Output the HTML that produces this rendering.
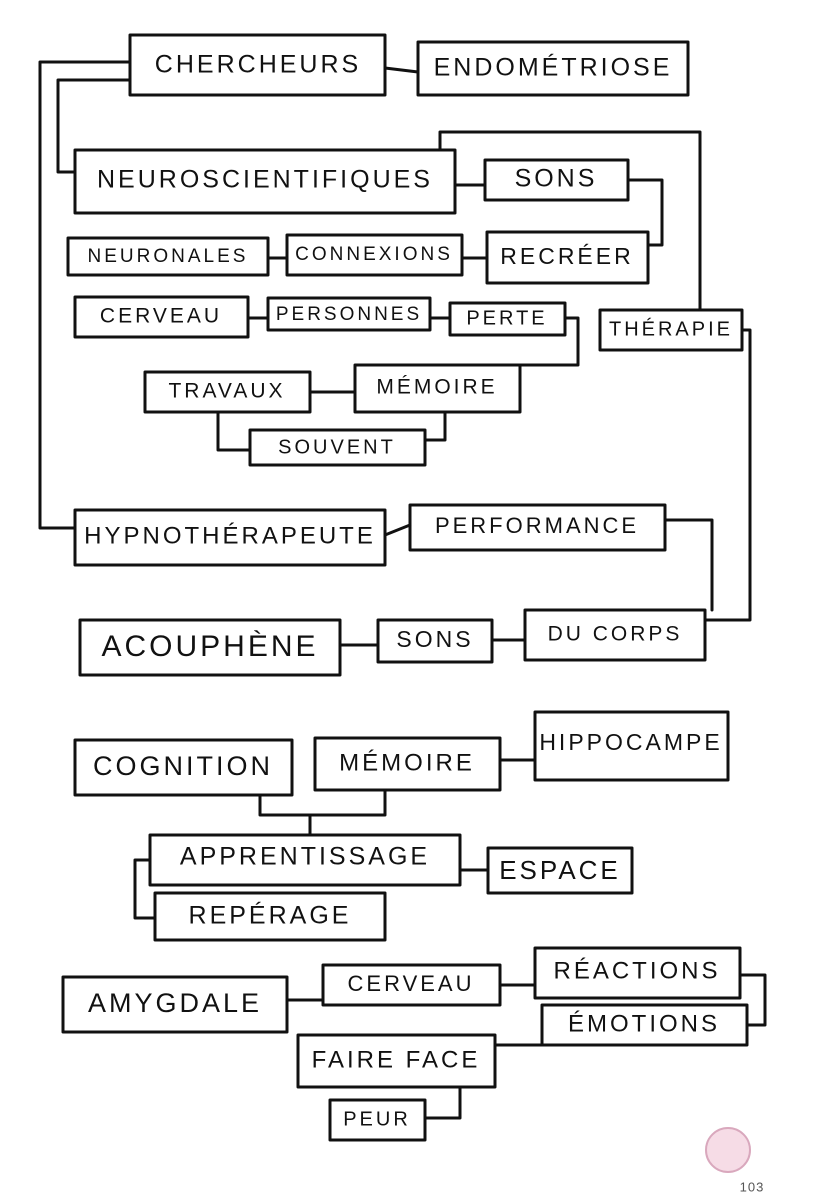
<!DOCTYPE html>
<html><head><meta charset="utf-8"><style>
html,body{margin:0;padding:0;background:#fff;}
svg{display:block}
text{font-family:"Liberation Sans",sans-serif;font-size:25px;letter-spacing:3px;fill:#111;dominant-baseline:middle;text-anchor:middle}
</style></head><body>
<svg width="816" height="1200" viewBox="0 0 816 1200" xmlns="http://www.w3.org/2000/svg">
<rect width="816" height="1200" fill="#fff"/>
<g fill="none" stroke="#111" stroke-width="3" stroke-linejoin="round" stroke-linecap="round">
<!-- boxes -->
<rect x="130" y="35" width="255" height="60"/>
<rect x="418" y="42" width="270" height="53"/>
<rect x="75" y="150" width="380" height="63"/>
<rect x="485" y="160" width="143" height="40"/>
<rect x="68" y="238" width="200" height="37"/>
<rect x="287" y="235" width="175" height="40"/>
<rect x="487" y="232" width="161" height="51"/>
<rect x="75" y="297" width="173" height="40"/>
<rect x="268" y="298" width="162" height="32"/>
<rect x="450" y="303" width="115" height="32"/>
<rect x="600" y="310" width="142" height="40"/>
<rect x="145" y="372" width="165" height="40"/>
<rect x="355" y="365" width="165" height="47"/>
<rect x="250" y="430" width="175" height="35"/>
<rect x="75" y="510" width="310" height="55"/>
<rect x="410" y="505" width="255" height="45"/>
<rect x="80" y="620" width="260" height="55"/>
<rect x="378" y="620" width="114" height="42"/>
<rect x="525" y="610" width="180" height="50"/>
<rect x="75" y="740" width="217" height="55"/>
<rect x="315" y="738" width="185" height="52"/>
<rect x="535" y="712" width="193" height="68"/>
<rect x="150" y="835" width="310" height="50"/>
<rect x="488" y="848" width="144" height="45"/>
<rect x="155" y="893" width="230" height="47"/>
<rect x="63" y="977" width="224" height="55"/>
<rect x="323" y="965" width="177" height="40"/>
<rect x="535" y="948" width="205" height="50"/>
<rect x="542" y="1005" width="205" height="40"/>
<rect x="298" y="1035" width="197" height="52"/>
<rect x="330" y="1100" width="95" height="40"/>
<!-- connectors -->
<path d="M130 62 H40 V528 H75"/>
<path d="M130 80 H58 V172 H75"/>
<path d="M385 68 L418 72"/>
<path d="M440 150 V132 H700 V310"/>
<path d="M455 185 H485"/>
<path d="M628 180 H662 V245 H648"/>
<path d="M268 258 H287"/>
<path d="M462 258 H487"/>
<path d="M248 318 H268"/>
<path d="M430 318 H450"/>
<path d="M565 318 H578 V365 H520"/>
<path d="M310 392 H355"/>
<path d="M218 412 V450 H250"/>
<path d="M445 412 V440 H425"/>
<path d="M742 330 H750 V620 H705"/>
<path d="M385 535 L410 525"/>
<path d="M665 520 H712 V610"/>
<path d="M340 645 H378"/>
<path d="M492 640 H525"/>
<path d="M500 760 H535"/>
<path d="M260 795 V815 H310 V835"/>
<path d="M310 815 H385 V790"/>
<path d="M150 860 H135 V918 H155"/>
<path d="M460 870 H488"/>
<path d="M287 1000 H323"/>
<path d="M500 985 H535"/>
<path d="M740 975 H765 V1025 H747"/>
<path d="M542 1045 H495"/>
<path d="M460 1087 V1118 H425"/>
</g>
<text x="258" y="66">CHERCHEURS</text>
<text x="553" y="69">ENDOMÉTRIOSE</text>
<text x="265" y="181">NEUROSCIENTIFIQUES</text>
<text x="556" y="180">SONS</text>
<text x="168" y="257" style="font-size:19px">NEURONALES</text>
<text x="374" y="255" style="font-size:19px">CONNEXIONS</text>
<text x="567" y="258" style="font-size:23px">RECRÉER</text>
<text x="161" y="317" style="font-size:21px">CERVEAU</text>
<text x="349" y="315" style="font-size:19px">PERSONNES</text>
<text x="507" y="319" style="font-size:20px">PERTE</text>
<text x="671" y="330" style="font-size:20px">THÉRAPIE</text>
<text x="227" y="392" style="font-size:21px">TRAVAUX</text>
<text x="437" y="388" style="font-size:21px">MÉMOIRE</text>
<text x="337" y="448" style="font-size:20px">SOUVENT</text>
<text x="230" y="537" style="font-size:24px">HYPNOTHÉRAPEUTE</text>
<text x="537" y="527" style="font-size:22px">PERFORMANCE</text>
<text x="210" y="648" style="font-size:30px">ACOUPHÈNE</text>
<text x="435" y="641" style="font-size:23px">SONS</text>
<text x="615" y="635" style="font-size:21px">DU CORPS</text>
<text x="183" y="768" style="font-size:27px">COGNITION</text>
<text x="407" y="764" style="font-size:24px">MÉMOIRE</text>
<text x="631" y="744" style="font-size:23px">HIPPOCAMPE</text>
<text x="305" y="858" style="font-size:25px">APPRENTISSAGE</text>
<text x="560" y="872" style="font-size:26px">ESPACE</text>
<text x="270" y="917" style="font-size:25px">REPÉRAGE</text>
<text x="175" y="1005" style="font-size:27px">AMYGDALE</text>
<text x="411" y="985" style="font-size:22px">CERVEAU</text>
<text x="637" y="972" style="font-size:24px">RÉACTIONS</text>
<text x="644" y="1025" style="font-size:24px">ÉMOTIONS</text>
<text x="396" y="1061" style="font-size:24px">FAIRE FACE</text>
<text x="377" y="1120" style="font-size:20px">PEUR</text>
<circle cx="728" cy="1150" r="22" fill="#f6dce6" stroke="#d9a8bd" stroke-width="2"/>
<text x="752" y="1188" style="font-size:13px;letter-spacing:1px;fill:#555">103</text>
</svg>
</body></html>
